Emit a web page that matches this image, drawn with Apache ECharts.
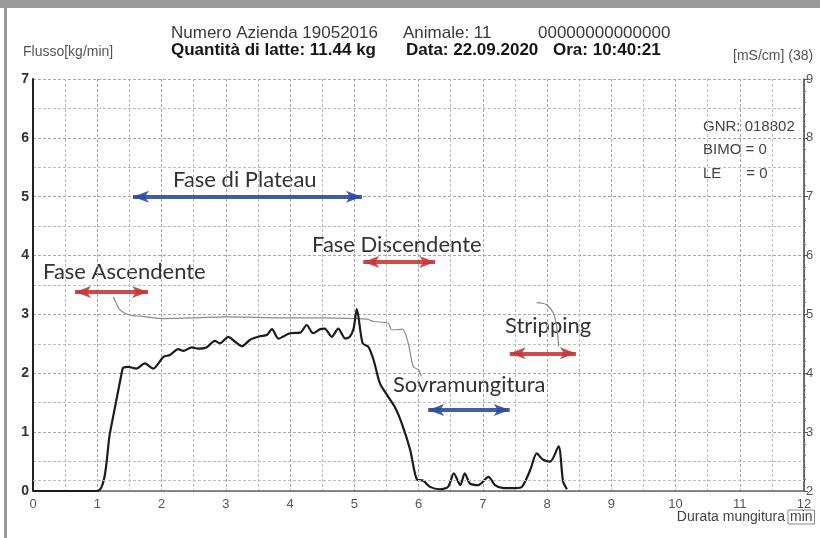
<!DOCTYPE html>
<html><head><meta charset="utf-8">
<script src="https://cdn.jsdelivr.net/npm/echarts@6/dist/echarts.min.js"></script>
<style>html,body{margin:0;padding:0;background:#fff}#c{width:820px;height:538px}</style>
</head><body><div id="c"></div>
<script>
// Flow (kg/min) vs time (min)
const flowTime = [0,1.0,1.2,1.39,1.41,1.48,1.61,1.74,1.87,2.03,2.13,2.26,2.34,2.47,2.57,2.70,2.83,2.91,3.04,3.14,3.25,3.38,3.53,3.64,3.72,3.82,4.0,4.16,4.26,4.36,4.47,4.54,4.65,4.75,4.86,4.93,4.99,5.04,5.13,5.22,5.30,5.40,5.53,5.63,5.74,5.87,5.98,6.07,6.18,6.33,6.46,6.55,6.65,6.72,6.80,6.93,7.09,7.19,7.32,7.50,7.61,7.74,7.84,7.94,8.05,8.18,8.25,8.31];
const flowValue = [0,0,1.0,2.06,2.10,2.11,2.08,2.17,2.08,2.28,2.31,2.41,2.38,2.44,2.42,2.44,2.55,2.51,2.62,2.54,2.46,2.57,2.63,2.65,2.75,2.59,2.68,2.69,2.82,2.68,2.75,2.76,2.62,2.76,2.59,2.62,2.76,3.09,2.51,2.45,2.23,1.83,1.60,1.43,1.15,0.70,0.19,0.18,0.07,0.03,0.07,0.30,0.10,0.30,0.13,0.10,0.24,0.10,0.05,0.05,0.07,0.36,0.64,0.53,0.50,0.76,0.16,0.03];
// Conductivity (mS/cm), right axis
const condTime = [1.25,1.30,1.35,1.43,1.55,1.67,2.0,2.5,3.0,3.5,4.0,4.5,5.0,5.2,5.30,5.53,5.58,5.66,5.75,5.84,5.92,6.0,6.04];
const condValue = [5.30,5.18,5.08,5.02,4.98,4.97,4.93,4.94,4.96,4.95,4.94,4.94,4.93,4.92,4.88,4.85,4.74,4.74,4.75,4.51,4.11,4.06,3.95];
const stripTime = [7.84,7.92,8.0,8.10,8.15,8.18];
const stripValue = [5.20,5.19,5.16,5.02,4.79,4.45];
const xTicks = [0,1,2,3,4,5,6,7,8,9,10,11,12];
const header1 = ["Numero Azienda 19052016","Animale: 11","00000000000000"];
const header2 = ["Quantità di latte: 11.44 kg","Data: 22.09.2020","Ora: 10:40:21"];
const infoLines = ["GNR: 018802","BIMO = 0","LE      = 0"];
// phase annotations: [label, x1, x2, y(flow), colour]
const phases = [
  ["Fase di Plateau",1.556,5.12,5.0,"#2e4d9c"],
  ["Fase Ascendente",0.654,1.79,3.38,"#c8373a"],
  ["Fase Discendente",5.14,6.26,3.89,"#c8373a"],
  ["Stripping",7.42,8.45,2.34,"#c8373a"],
  ["Sovramungitura",6.15,7.42,1.376,"#2e4d9c"]
];

const zip = (a,b)=>a.map((v,i)=>[v,b[i]]);
const dashMajor = {type:[3,2], color:'#a8a8a8', width:1};
const dashMinor = {type:[3,2], color:'#bdbdbd', width:1};
const chart = echarts.init(document.getElementById('c'));

const markLines = phases.map(p=>[
  {coord:[p[1],p[3]], lineStyle:{color:p[4]}},
  {coord:[p[2],p[3]]}
]);
const annoFont = '22px Lato';
const annoPos = [[173,180],[43,272],[312,245],[505,326],[393,385]];

chart.setOption({
  backgroundColor:'#fff',
  animation:false,
  grid:{left:33,right:16,top:79,bottom:47},
  xAxis:{type:'value',min:0,max:12,interval:1,
    axisLine:{show:true,onZero:false,lineStyle:{color:'#666',width:1.5}},
    axisTick:{show:false},
    axisLabel:{color:'#555',fontSize:13,fontFamily:'Liberation Sans',margin:7,
      formatter:v=>xTicks.includes(v)?String(v):''},
    splitLine:{show:true,lineStyle:dashMajor},
    minorTick:{show:false,splitNumber:2},
    minorSplitLine:{show:true,lineStyle:dashMinor}
  },
  yAxis:[
    {type:'value',min:0,max:7,interval:1,position:'left',
      axisLine:{show:true,onZero:false,lineStyle:{color:'#222',width:2}},
      axisTick:{show:false},
      axisLabel:{color:'#333',fontSize:14,fontWeight:'bold',fontFamily:'Liberation Sans',margin:4},
      splitLine:{show:true,lineStyle:dashMajor},
      minorTick:{show:false,splitNumber:2},
      minorSplitLine:{show:true,lineStyle:dashMinor}
    },
    {type:'value',min:2,max:9,interval:1,position:'right',
      axisLine:{show:true,onZero:false,lineStyle:{color:'#444',width:1.5}},
      axisTick:{show:true,length:4,lineStyle:{color:'#555'}},
      minorTick:{show:true,splitNumber:5,length:2,lineStyle:{color:'#777'}},
      axisLabel:{color:'#555',fontSize:13,fontFamily:'Liberation Sans',margin:2},
      splitLine:{show:false}
    }
  ],
  series:[
    {type:'line',name:'extra',data:[],yAxisIndex:0,silent:true,
      markLine:{silent:true,symbol:'none',label:{show:false},lineStyle:dashMinor,
        data:[{yAxis:0.19}]}},
    {type:'line',name:'cond',yAxisIndex:1,data:zip(condTime,condValue),
      showSymbol:false,smooth:0.3,lineStyle:{color:'#8a8a8a',width:1.2},z:3},
    {type:'line',name:'strip',yAxisIndex:1,data:zip(stripTime,stripValue),
      showSymbol:false,smooth:0.4,lineStyle:{color:'#8a8a8a',width:1.2},z:3},
    {type:'line',name:'flow',yAxisIndex:0,data:zip(flowTime,flowValue),
      showSymbol:false,smooth:0.25,lineStyle:{color:'#1c1c1c',width:2.2},z:4,
      markLine:{silent:true,symbol:['arrow','arrow'],symbolSize:[9,16],
        label:{show:false},lineStyle:{width:4,type:'solid',opacity:0.9},
        data:markLines}}
  ],
  graphic:[
    {type:'rect',shape:{x:0,y:0,width:820,height:8},style:{fill:'#9a9a9b'},silent:true},
    {type:'rect',shape:{x:4,y:0,width:3,height:538},style:{fill:'#9a9a9b'},silent:true},
    {type:'text',x:171,y:33,style:{text:header1[0],font:'17px "Liberation Sans"',fill:'#3a3a3a',verticalAlign:'middle'}},
    {type:'text',x:403,y:33,style:{text:header1[1],font:'17px "Liberation Sans"',fill:'#3a3a3a',verticalAlign:'middle'}},
    {type:'text',x:538,y:33,style:{text:header1[2],font:'17px "Liberation Sans"',fill:'#3a3a3a',verticalAlign:'middle'}},
    {type:'text',x:171,y:50,style:{text:header2[0],font:'bold 17px "Liberation Sans"',fill:'#151515',verticalAlign:'middle'}},
    {type:'text',x:406,y:50,style:{text:header2[1],font:'bold 17px "Liberation Sans"',fill:'#151515',verticalAlign:'middle'}},
    {type:'text',x:553,y:50,style:{text:header2[2],font:'bold 17px "Liberation Sans"',fill:'#151515',verticalAlign:'middle'}},
    {type:'text',x:23,y:52,style:{text:'Flusso[kg/min]',font:'14px "Liberation Sans"',fill:'#555',verticalAlign:'middle'}},
    {type:'text',x:733,y:56,style:{text:'[mS/cm] (38)',font:'14px "Liberation Sans"',fill:'#555',verticalAlign:'middle'}},
    {type:'text',x:703,y:127,style:{text:infoLines[0],font:'15px "Liberation Sans"',fill:'#444',verticalAlign:'middle'}},
    {type:'text',x:703,y:150,style:{text:infoLines[1],font:'15px "Liberation Sans"',fill:'#444',verticalAlign:'middle'}},
    {type:'text',x:703,y:174,style:{text:infoLines[2],font:'15px "Liberation Sans"',fill:'#444',verticalAlign:'middle'}},
    {type:'text',x:785,y:517,style:{text:'Durata mungitura',font:'14px "Liberation Sans"',fill:'#444',align:'right',verticalAlign:'middle'}},
    {type:'text',x:788,y:517,style:{text:'min',font:'14px "Liberation Sans"',fill:'#444',verticalAlign:'middle',
      borderColor:'#888',borderWidth:1,padding:[0,2]}},
    ...phases.map((p,i)=>({type:'text',x:annoPos[i][0],y:annoPos[i][1],
      style:{text:p[0],font:annoFont,fill:'#333',verticalAlign:'middle'}}))
  ]
});
</script></body></html>
